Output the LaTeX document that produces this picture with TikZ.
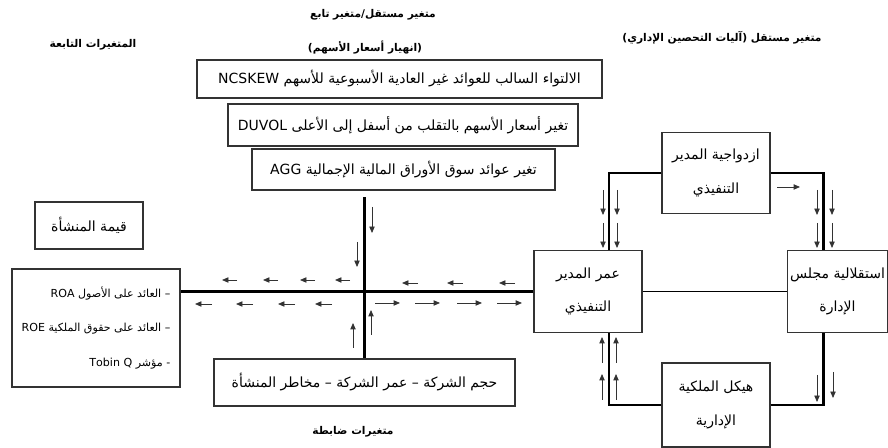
\documentclass[tikz,border=0pt]{standalone}
\usepackage{fontspec}
\setmainfont{DejaVu Sans}
\newfontfamily\arabicfont[Script=Arabic]{DejaVu Sans}
\TeXXeTstate=1
\usetikzlibrary{arrows.meta,calc}

\newcommand{\artxt}[1]{{\arabicfont\beginR #1\endR}}

\begin{document}
\begin{tikzpicture}[
  x=0.75pt, y=-0.75pt,
  font=\fontsize{10.5}{12.5}\selectfont,
  blk/.style   = {draw=black!80, line width=0.9pt, inner sep=2pt, align=center},
  twoln/.style = {blk, font=\fontsize{10.5}{25}\selectfont,
                  minimum width=81pt, minimum height=61pt},
  hdr/.style   = {font=\fontsize{8}{10}\selectfont\bfseries, inner sep=1pt},
  thk/.style   = {line width=1.6pt},
  thn/.style   = {line width=0.8pt},
  sar/.style   = {-{Triangle[length=4.8pt, width=4pt]}, line width=0.6pt, black!80}
]
\useasboundingbox (0,0) rectangle (888,448);

% ---- headings -------------------------------------------------------------
\node[hdr] (hmid) at (373,15) {\artxt{متغير مستقل/متغير تابع}};
\node[hdr] (hcrash) at (365,48) {\artxt{(انهيار أسعار الأسهم)}};
\node[hdr] (hdep) at (93,45) {\artxt{المتغيرات التابعة}};
\node[hdr] (hind) at (722,38) {\artxt{متغير مستقل (آليات التحصين الإداري)}};
\node[hdr] (hctrl) at (353,432) {\artxt{متغيرات ضابطة}};

% ---- crash measures -------------------------------------------------------
\node[blk, minimum width=303.75pt, minimum height=28.5pt] (ncskew) at (399.5,79)
  {\artxt{الالتواء السالب للعوائد غير العادية الأسبوعية للأسهم NCSKEW}};
\node[blk, minimum width=262.5pt, minimum height=31.5pt] (duvol) at (403,125)
  {\artxt{تغير أسعار الأسهم بالتقلب من أسفل إلى الأعلى DUVOL}};
\node[blk, minimum width=227.25pt, minimum height=30.75pt] (agg) at (403.5,169.5)
  {\artxt{تغير عوائد سوق الأوراق المالية الإجمالية AGG}};

% ---- entrenchment mechanisms ----------------------------------------------
\node[twoln] (dual) at (716,173)
  {\artxt{ازدواجية المدير}\\\artxt{التنفيذي}};
\node[twoln] (ceoage) at (588,291.5)
  {\artxt{عمر المدير}\\\artxt{التنفيذي}};
\node[twoln, minimum width=75pt] (board) at (837.5,291.5)
  {\artxt{استقلالية مجلس}\\\artxt{الإدارة}};
\node[twoln, minimum height=63pt] (own) at (716,405)
  {\artxt{هيكل الملكية}\\\artxt{الإدارية}};

\draw[thk] (dual.west) -| ($(ceoage.north)+(21,0)$);
\draw[thk] (dual.east) -| ($(board.north)+(-14,0)$);
\draw[thk] (own.west) -| ($(ceoage.south)+(21,0)$);
\draw[thk] (own.east) -| ($(board.south)+(-14,0)$);
\draw[thn] (ceoage.east) -- (board.west);

\foreach \x in {603,617} \foreach \y in {190,223} \draw[sar] (\x,\y) -- ++(0,25);
\foreach \x in {817,832} \foreach \y in {190,223} \draw[sar] (\x,\y) -- ++(0,25);
\foreach \x in {602,616} \foreach \y in {400,363} \draw[sar] (\x,\y) -- ++(0,-26);
\draw[sar] (817,375) -- ++(0,27);
\draw[sar] (833,372) -- ++(0,26);
\draw[sar] (777,187) -- ++(23,0);

% ---- firm value and controls ----------------------------------------------
\node[blk, minimum width=81pt, minimum height=35.25pt] (firmval) at (89,225.5)
  {\artxt{قيمة المنشأة}};
\node[blk, align=right, font=\fontsize{8.3}{26}\selectfont, inner sep=7pt,
      minimum width=126pt, minimum height=88.5pt] (depvars) at (96,328)
  {\artxt{– العائد على الأصول ROA}\\
   \artxt{– العائد على حقوق الملكية ROE}\\
   \artxt{- مؤشر \beginL Tobin Q\endL}};
\node[blk, minimum width=225.75pt, minimum height=35.25pt] (control) at (364.5,382.5)
  {\artxt{حجم الشركة – عمر الشركة – مخاطر المنشأة}};

% ---- the cross ------------------------------------------------------------
\coordinate (vtop) at (364.5,197);
\draw[thk, line width=2pt] (ceoage.west) -- (ceoage.west -| depvars.east);
\draw[thk, line width=2pt] (control.north) -- (vtop);

\foreach \x in {237,278,315,350} \draw[sar] (\x,280) -- ++(-15,0);
\foreach \x in {418,463,515} \draw[sar] (\x,283) -- ++(-16,0);
\foreach \x in {212,253,295,332} \draw[sar] (\x,304) -- ++(-17,0);
\foreach \x in {375,415,457,497} \draw[sar] (\x,303) -- ++(25,0);
\draw[sar] (372,207) -- ++(0,26);
\draw[sar] (357,242) -- ++(0,25);
\draw[sar] (371,335) -- ++(0,-25);
\draw[sar] (353,348) -- ++(0,-25);

\end{tikzpicture}
\end{document}
